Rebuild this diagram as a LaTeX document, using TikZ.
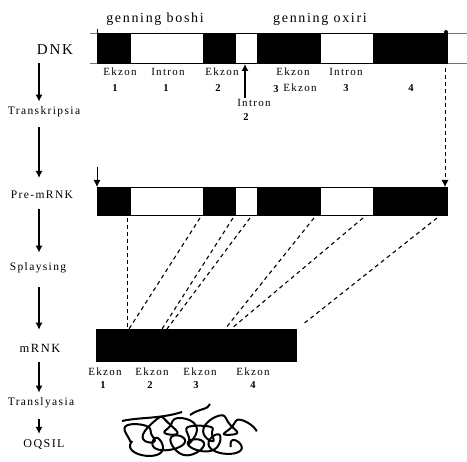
\documentclass[tikz,border=0pt]{standalone}
\usepackage{fontspec}
\setmainfont[LetterSpace=12]{Liberation Serif}
\usetikzlibrary{arrows.meta}

\begin{document}
\begin{tikzpicture}[x=1pt, y=-1pt,
  stage/.style={inner sep=2pt, font=\fontsize{11.5}{13}\selectfont},
  lbl/.style={inner sep=1pt, font=\fontsize{11}{13}\selectfont},
  num/.style={inner sep=1pt, font=\fontsize{10.5}{12}\selectfont\bfseries},
  flow/.style={line width=1.1pt, -{Latex[length=7pt,width=7pt]}},
  link/.style={line width=1.1pt, dash pattern=on 4pt off 3.5pt},
  guide/.style={line width=0.8pt, dash pattern=on 4pt off 3pt},
  coil/.style={line width=2pt, line join=round}]
\useasboundingbox (0,0) rectangle (467,462);

% DNK
\draw[black!55, line width=0.8pt] (90,33) -- (467,33);
\draw[black!55, line width=0.8pt] (90,63) -- (467,63);
\draw[line width=0.8pt] (97,33) rectangle (447,63);
\fill (97,33) rectangle (131,63);
\fill (203,33) rectangle (236,63);
\fill (257,33) rectangle (321,63);
\fill (373,33) rectangle (447,63);
\draw[line width=0.8pt] (97,29) -- (97,33);
\fill (446,32) circle (2);
\node[font=\fontsize{14}{16}\selectfont] (boshi) at (155,19) {genning boshi};
\node[font=\fontsize{14}{16}\selectfont] (oxiri) at (320,19) {genning oxiri};

\node[lbl] (e1) at (120,72) {Ekzon};
\node[num] (e1n) at (115,88) {1};
\node[lbl] (i1) at (168,72) {Intron};
\node[num] (i1n) at (166,88) {1};
\node[lbl] (e2) at (222,72) {Ekzon};
\node[num] (e2n) at (218,88) {2};
\node[lbl] (i2) at (254,103) {Intron};
\node[num] (i2n) at (246,117) {2};
\node[lbl] (e3) at (293,72) {Ekzon};
\node[lbl] (e3b) at (300,88) {Ekzon};
\node[num] (e3n) at (276,89) {3};
\node[lbl] (i3) at (346,72) {Intron};
\node[num] (i3n) at (346,88) {3};
\node[num] (e4n) at (411,88) {4};
\coordinate (i2tip) at (245,64);
\draw[flow] (i2.north -| i2tip) -- (i2tip);

% Pre-mRNK
\draw[line width=0.8pt] (97,187) rectangle (447,215);
\fill (97,187) rectangle (131,215);
\fill (203,187) rectangle (236,215);
\fill (257,187) rectangle (321,215);
\fill (373,187) rectangle (447,215);
\coordinate (start) at (97,187);
\coordinate (stop) at (445,187);
\draw[flow, line width=0.8pt] (97,167) -- (start);
\draw[guide, -{Latex[length=7pt,width=7pt]}] (445,68) -- (stop);

% mRNK
\fill (96,329) rectangle (297,362);
\node[lbl] (m1) at (105,372) {Ekzon};
\node[num] (m1n) at (103,385) {1};
\node[lbl] (m2) at (152,372) {Ekzon};
\node[num] (m2n) at (150,385) {2};
\node[lbl] (m3) at (200,372) {Ekzon};
\node[num] (m3n) at (196,385) {3};
\node[lbl] (m4) at (253,372) {Ekzon};
\node[num] (m4n) at (253,385) {4};

% splaysing
\coordinate (p1) at (127,218);
\coordinate (p2) at (200,218);
\coordinate (p3) at (233,218);
\coordinate (p4) at (250,218);
\coordinate (p5) at (314,218);
\coordinate (p6) at (363,218);
\coordinate (p7) at (437,218);
\coordinate (q1) at (127,329);
\coordinate (q2) at (129,329);
\coordinate (q3) at (162,329);
\coordinate (q4) at (167,329);
\coordinate (q5) at (225,329);
\coordinate (q6) at (231,329);
\coordinate (q7) at (302,325);
\draw[guide] (p1) -- (q1);
\draw[link] (p2) -- (q2);
\draw[link] (p3) -- (q3);
\draw[link] (p4) -- (q4);
\draw[link] (p5) -- (q5);
\draw[link] (p6) -- (q6);
\draw[link] (p7) -- (q7);

% oqsil
\draw[coil] plot[smooth, samples=160, domain=0:36]
  ({130+3.2*\x-9*sin(\x r)+3*sin(2.3*\x r)},
   {430+10*cos(\x r)+4*sin(0.37*\x r)+2*cos(1.7*\x r)});
\draw[coil] plot[smooth, samples=140, domain=0.8:30]
  ({138+3.4*\x-11*sin(1.1*\x r)+2*cos(1.9*\x r)},
   {445-8*cos(1.1*\x r)+3*sin(0.5*\x r)});
\draw[coil] (122,421) .. controls (140,417) and (160,419) .. (182,412);
\draw[coil] (190,415) .. controls (200,408) and (208,410) .. (210,404);

% bosqichlar
\coordinate (axis) at (39,0);
\node[stage, font=\fontsize{15}{17}\selectfont] (dnk) at (55,50) {DNK};
\node[stage] (tr) at (44,112) {Transkripsia};
\node[stage] (pre) at (42,195) {Pre-mRNK};
\node[stage] (spl) at (38,268) {Splaysing};
\node[stage, font=\fontsize{12.5}{14}\selectfont] (mrnk) at (40,348) {mRNK};
\node[stage] (trl) at (41,403) {Translyasia};
\node[stage, font=\fontsize{12}{14}\selectfont] (oq) at (44,445) {OQSIL};
\draw[flow, shorten <=6pt, shorten >=3pt] (axis |- dnk.south) -- (axis |- tr.north);
\draw[flow, shorten <=8pt, shorten >=11pt] (axis |- tr.south) -- (axis |- pre.north);
\draw[flow, shorten <=8pt, shorten >=8pt] (axis |- pre.south) -- (axis |- spl.north);
\draw[flow, shorten <=12pt, shorten >=12pt] (axis |- spl.south) -- (axis |- mrnk.north);
\draw[flow, shorten <=8pt, shorten >=3pt] (axis |- mrnk.south) -- (axis |- trl.north);
\draw[flow, shorten <=9pt, shorten >=4pt] (axis |- trl.south) -- (axis |- oq.north);
\end{tikzpicture}
\end{document}
